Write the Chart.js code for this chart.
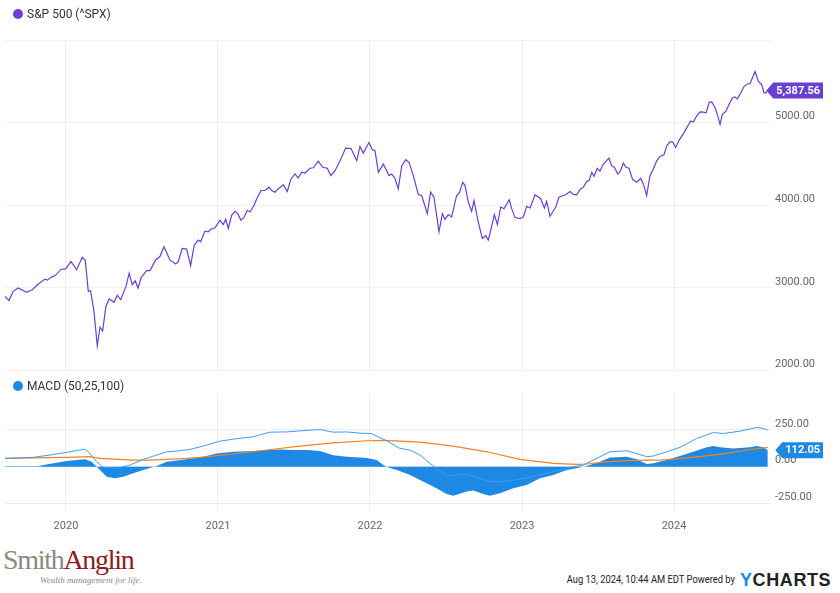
<!DOCTYPE html>
<html>
<head>
<meta charset="utf-8">
<script src="https://cdn.jsdelivr.net/npm/chart.js@4.4.1/dist/chart.umd.min.js"></script>
<style>
  body { margin: 0; background: #fff; font-family: Roboto, sans-serif; }
  #wrap { position: relative; width: 840px; height: 593px; overflow: hidden; }
  canvas { position: absolute; left: 0; }
  .legend { position: absolute; left: 13px; font-size: 12px; color: #333; display: flex; align-items: center; z-index: 2; }
  .legend .dot { width: 10px; height: 10px; border-radius: 50%; margin-right: 4px; }
  .foot { position: absolute; white-space: nowrap; }
</style>
</head>
<body>
<div id="wrap">
  <div class="legend" style="top:7px"><span class="dot" style="background:#6a3fd2"></span>S&amp;P 500 (^SPX)</div>
  <canvas id="spxChart" width="840" height="381" style="top:0"></canvas>
  <div class="legend" style="top:379px"><span class="dot" style="background:#1e88e5"></span>MACD (50,25,100)</div>
  <canvas id="macdChart" width="840" height="160" style="top:380px"></canvas>

  <div class="foot" style="left:3px; top:544px; font-family:'Liberation Serif', serif; font-size:28px; letter-spacing:-1.3px;"><span style="color:#8d8781">Smith</span><span style="color:#8e1b22">Anglin</span></div>
  <div class="foot" style="left:40px; top:575px; font: italic 9px 'Liberation Serif', serif; color:#888;">Wealth management for life.</div>
  <div class="foot" style="right:105px; top:573px; font-size:11px; color:#222; transform:scaleX(.85); transform-origin:right;">Aug 13, 2024, 10:44 AM EDT Powered by</div>
  <div class="foot" style="left:740px; top:570px; font: bold 18px 'Liberation Sans', sans-serif; letter-spacing:0.6px;"><span style="color:#1a8ce8">Y</span><span style="color:#222">CHARTS</span></div>
</div>

<script>
// time axis is in decimal years
const yearTicks = [2020, 2021, 2022, 2023, 2024];
const spxTicks = [2000, 3000, 4000, 5000, 6000];
const macdTicks = [-250, 0, 250, 500];

const spxYears = [2019.599,2019.625,2019.653,2019.686,2019.741,2019.778,2019.818,2019.862,2019.877,2019.906,2019.928,2019.967,2019.998,2020.033,2020.070,2020.107,2020.127,2020.147,2020.162,2020.184,2020.206,2020.224,2020.241,2020.263,2020.285,2020.316,2020.338,2020.360,2020.395,2020.416,2020.436,2020.456,2020.474,2020.495,2020.531,2020.553,2020.590,
  2020.618,2020.645,2020.684,2020.722,2020.739,2020.765,2020.794,2020.820,2020.844,2020.870,2020.886,2020.914,2020.936,2020.952,2020.980,2021.013,2021.035,2021.051,2021.068,2021.090,2021.112,2021.130,2021.151,2021.173,2021.193,2021.211,2021.239,2021.255,2021.283,2021.309,2021.336,2021.353,2021.375,2021.401,2021.430,2021.456,2021.480,2021.507,2021.528,2021.551,2021.572,2021.605,
  2021.627,2021.660,2021.689,2021.719,2021.743,2021.770,2021.803,2021.840,2021.875,2021.913,2021.934,2021.956,2021.993,2022.015,2022.033,2022.055,2022.088,2022.125,2022.143,2022.164,2022.186,2022.209,2022.235,2022.257,2022.285,2022.318,2022.340,2022.377,2022.399,2022.421,2022.454,2022.476,2022.493,2022.515,2022.537,2022.570,2022.588,2022.610,
  2022.625,2022.647,2022.669,2022.684,2022.712,2022.739,2022.761,2022.778,2022.801,2022.818,2022.838,2022.860,2022.882,2022.916,2022.932,2022.954,2022.987,2023.009,2023.031,2023.053,2023.086,2023.123,2023.147,2023.162,2023.184,2023.222,2023.243,2023.272,2023.289,2023.316,2023.338,2023.360,2023.382,2023.403,2023.426,2023.441,2023.459,2023.474,2023.495,2023.513,2023.535,2023.572,2023.590,2023.607,2023.630,
  2023.645,2023.667,2023.684,2023.704,2023.728,2023.755,2023.781,2023.798,2023.820,2023.842,2023.864,2023.886,2023.908,2023.934,2023.952,2023.974,2023.991,2024.011,2024.035,2024.066,2024.084,2024.110,2024.127,2024.149,2024.171,2024.193,2024.211,2024.232,2024.248,2024.270,2024.285,2024.303,2024.318,2024.342,2024.364,2024.384,2024.401,2024.416,2024.439,2024.461,2024.482,2024.500,2024.533,2024.555,2024.577,2024.592,2024.604,2024.617];
const spxValues = [2897,2845,2957,2997,2945,2977,3045,3105,3093,3133,3145,3222,3229,3318,3217,3369,3333,2957,2965,2717,2297,2525,2477,2777,2865,2825,2909,2857,3017,3177,3037,3085,2997,3125,3209,3209,3337,
  3378,3498,3337,3289,3317,3477,3469,3270,3518,3577,3558,3685,3677,3709,3726,3817,3766,3829,3718,3877,3925,3898,3817,3858,3938,3918,4006,4078,4178,4178,4218,4178,4158,4206,4246,4166,4318,4378,4330,4399,4390,4447,
  4453,4531,4459,4447,4358,4418,4538,4691,4687,4538,4711,4631,4759,4671,4659,4399,4498,4358,4378,4326,4198,4478,4551,4519,4358,4130,4118,3898,4158,4098,3678,3898,3829,3886,3858,4118,4150,4278,
  4238,4038,3925,4058,3798,3598,3630,3577,3750,3886,3766,3978,3958,4066,3958,3850,3838,3858,3986,3966,4126,4078,3966,4046,3866,3978,4098,4118,4130,4166,4130,4126,4190,4218,4286,4298,4399,4350,4447,4411,4498,4571,4478,4459,4378,
  4406,4510,4459,4447,4310,4278,4326,4258,4118,4358,4438,4538,4591,4611,4719,4767,4767,4699,4791,4879,4939,5019,5007,5079,5131,5127,5119,5247,5251,5179,5099,4979,5099,5139,5227,5299,5311,5287,5359,5439,5467,5471,5619,5499,5459,5359,5359,5387.56];

const macdYears = [2019.599,2019.785,2019.895,2020.005,2020.125,2020.147,2020.202,2020.245,2020.334,2020.421,2020.509,2020.597,2020.663,2020.728,2020.816,2020.903,2021.013,2021.101,2021.232,2021.342,2021.452,2021.539,2021.671,2021.759,2021.847,2021.934,2022.011,2022.044,2022.110,2022.197,2022.263,2022.329,2022.373,2022.428,2022.505,2022.614,2022.702,2022.789,2022.877,2022.987,2023.097,2023.206,2023.316,2023.403,2023.513,2023.579,2023.689,2023.732,2023.820,2023.864,2023.952,2024.039,2024.149,2024.259,2024.324,2024.434,2024.544,2024.588,2024.617];
const macdValues = [56,63,79,97,119,101,34,-5,-11,11,50,79,101,106,117,140,173,187,203,234,236,243,252,234,236,227,225,207,176,124,113,79,41,-5,-63,-52,-72,-103,-100,-85,-60,-34,-5,11,68,101,108,95,68,72,101,131,191,232,225,241,266,259,248];

const signalYears = [2019.599,2019.785,2020.005,2020.158,2020.224,2020.443,2020.553,2020.663,2020.794,2020.882,2021.101,2021.320,2021.539,2021.759,2021.978,2022.088,2022.197,2022.329,2022.548,2022.768,2022.987,2023.206,2023.360,2023.426,2023.557,2023.689,2023.820,2023.908,2024.039,2024.193,2024.346,2024.478,2024.617];
const signalValues = [56,59,63,68,56,45,45,50,56,63,86,113,140,162,176,178,173,166,140,101,50,23,16,18,32,41,45,45,54,72,90,113,131];

const histYears = [2019.599,2019.818,2019.851,2019.939,2020.005,2020.125,2020.169,2020.202,2020.224,2020.268,2020.322,2020.377,2020.443,2020.509,2020.564,2020.597,2020.663,2020.794,2020.882,2020.991,2021.101,2021.232,2021.320,2021.408,2021.495,2021.584,2021.671,2021.759,2021.847,2021.934,2021.978,2022.044,2022.088,2022.120,2022.176,2022.263,2022.329,2022.416,2022.505,2022.548,2022.636,2022.680,2022.745,2022.789,2022.855,2022.943,2023.031,2023.118,2023.206,2023.294,2023.382,2023.426,2023.513,2023.579,2023.689,2023.754,2023.820,2023.864,2023.952,2024.039,2024.127,2024.215,2024.259,2024.303,2024.390,2024.500,2024.544,2024.588,2024.617];
const histValues = [2,2,11,27,38,50,34,0,-23,-68,-79,-68,-45,-23,-5,5,34,50,63,90,101,106,113,117,113,113,106,77,68,63,59,45,11,-5,-23,-56,-90,-135,-185,-198,-169,-162,-185,-198,-180,-146,-124,-79,-56,-23,-5,5,34,63,68,50,18,23,45,72,101,131,140,131,124,131,140,131,112.05];

const X_MIN = 2019.599, X_MAX = 2024.638;
const PURPLE = '#6a3fd2';
const BLUE = '#1e88e5';
const TICK_FONT = { family: 'Roboto', size: 11 };

function pts(xs, ys) {
    return xs.map((x, i) => ({ x: x, y: ys[i] }));
}

function xAxis(showLabels) {
    return {
        type: 'linear',
        min: X_MIN,
        max: X_MAX,
        afterBuildTicks: s => { s.ticks = yearTicks.map(v => ({ value: v })); },
        grid: { color: '#ececec', drawTicks: showLabels, tickLength: 8 },
        border: { display: false },
        ticks: { display: showLabels, callback: v => String(v), color: '#666', font: TICK_FONT, padding: 8, maxRotation: 0, autoSkip: false },
        afterFit: s => { s.height = showLabels ? 36.5 : 0; }
    };
}

// flag with the last value, drawn right of the plot
const lastTag = {
    id: 'lastTag',
    afterDatasetsDraw(chart, args, opts) {
        const ds = chart.data.datasets[opts.index];
        const last = ds.data[ds.data.length - 1];
        const y = chart.scales.y.getPixelForValue(last.y);
        const text = last.y.toLocaleString('en-US', { minimumFractionDigits: 2, maximumFractionDigits: 2 });
        const ctx = chart.ctx;
        ctx.save();
        ctx.font = 'bold 11px Roboto';
        const w = ctx.measureText(text).width + 6;
        const right = 823, left = right - w, h = 16;
        ctx.fillStyle = opts.color;
        ctx.beginPath();
        ctx.moveTo(left - 7, y);
        ctx.lineTo(left, y - h / 2);
        ctx.lineTo(right, y - h / 2);
        ctx.lineTo(right, y + h / 2);
        ctx.lineTo(left, y + h / 2);
        ctx.closePath();
        ctx.fill();
        ctx.fillStyle = '#fff';
        ctx.textAlign = 'center';
        ctx.textBaseline = 'middle';
        ctx.fillText(text, (left + right) / 2, y + 0.5);
        ctx.restore();
    }
};

new Chart(document.getElementById('spxChart'), {
    type: 'line',
    data: {
        datasets: [{
            label: 'S&P 500 (^SPX)',
            data: pts(spxYears, spxValues),
            borderColor: PURPLE,
            borderWidth: 1.2,
            pointRadius: 0,
            tension: 0
        }]
    },
    options: {
        responsive: false,
        animation: false,
        layout: { padding: { top: 40, left: 5, right: 0, bottom: 8 } },
        scales: {
            x: xAxis(false),
            y: {
                position: 'right',
                min: 2000,
                max: 6000,
                afterBuildTicks: s => { s.ticks = spxTicks.map(v => ({ value: v })); },
                grid: { color: '#f1f1f1', drawTicks: false },
                border: { display: false },
                ticks: { callback: v => v === 6000 ? '' : v.toFixed(2), color: '#666', font: TICK_FONT, padding: 4, labelOffset: -6 },
                afterFit: s => { s.width = 69; }
            }
        },
        plugins: {
            legend: { display: false },
            tooltip: { enabled: false },
            lastTag: { index: 0, color: PURPLE }
        }
    },
    plugins: [lastTag]
});

new Chart(document.getElementById('macdChart'), {
    type: 'line',
    data: {
        datasets: [{
            label: 'MACD',
            data: pts(macdYears, macdValues),
            borderColor: '#3d9cf2',
            borderWidth: 1,
            pointRadius: 0,
            order: 1
        }, {
            label: 'Signal',
            data: pts(signalYears, signalValues),
            borderColor: '#f5821f',
            borderWidth: 1.2,
            pointRadius: 0,
            order: 2
        }, {
            label: 'Histogram',
            data: pts(histYears, histValues),
            borderColor: BLUE,
            backgroundColor: BLUE,
            borderWidth: 0,
            fill: 'origin',
            pointRadius: 0,
            order: 3
        }]
    },
    options: {
        responsive: false,
        animation: false,
        layout: { padding: { top: 13, left: 5, right: 0, bottom: 0 } },
        scales: {
            x: xAxis(true),
            y: {
                position: 'right',
                min: -250,
                max: 500,
                afterBuildTicks: s => { s.ticks = macdTicks.map(v => ({ value: v })); },
                grid: { color: c => c.tick && c.tick.value === 500 ? 'rgba(0,0,0,0)' : '#ececec', drawTicks: false },
                border: { display: false },
                ticks: { callback: v => v === 500 ? '' : v.toFixed(2), color: '#666', font: TICK_FONT, padding: 4, labelOffset: -6 },
                afterFit: s => { s.width = 69; }
            }
        },
        plugins: {
            legend: { display: false },
            tooltip: { enabled: false },
            lastTag: { index: 2, color: BLUE }
        }
    },
    plugins: [lastTag]
});
</script>
</body>
</html>
